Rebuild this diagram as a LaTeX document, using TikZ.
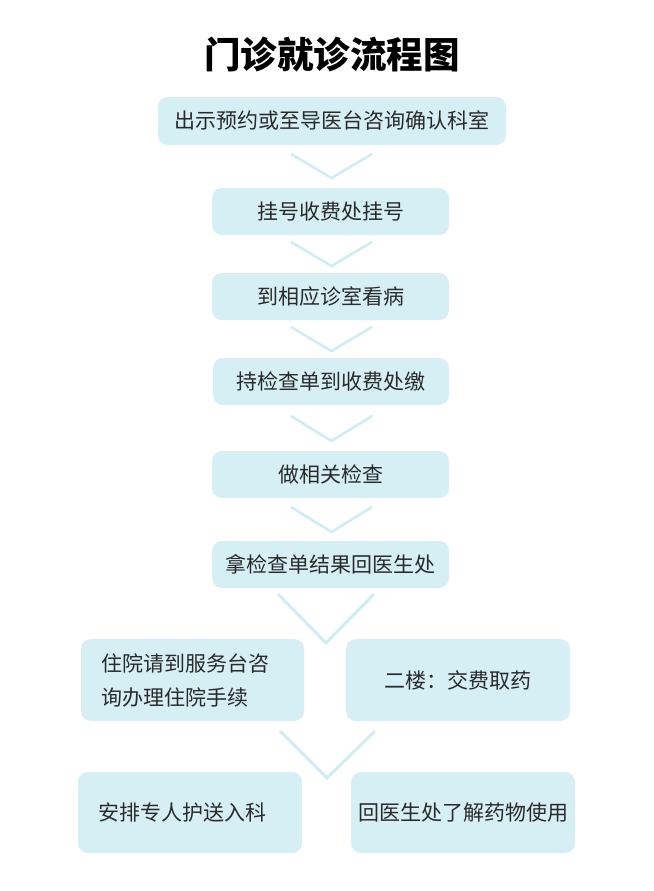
\documentclass[tikz,border=0pt]{standalone}
\usepackage{fontspec}
\setmainfont{Noto Sans CJK SC}
\usetikzlibrary{calc}
\definecolor{boxfill}{HTML}{D5EFF4}
\definecolor{chev}{HTML}{CFEDF3}
\definecolor{txt}{HTML}{2A2A2A}
\begin{document}
\begin{tikzpicture}[x=1pt,y=-1pt,
  box/.style={fill=boxfill,draw=none,rounded corners=10pt,inner sep=0pt,text=txt,
    font=\fontsize{21}{34}\selectfont},
  chevron/.style={draw=chev,line width=2.6pt},
  bigchev/.style={draw=chev,line width=3pt}]
\useasboundingbox (0,0) rectangle (653,891);
\fill[white] (0,0) rectangle (653,891);
\node[text=black,font=\fontsize{36.5}{40}\selectfont\bfseries] (title) at (332,55) {门诊就诊流程图};
\node[box,minimum width=348pt,minimum height=48pt] (b1) at (332,121) {出示预约或至导医台咨询确认科室};
\node[box,minimum width=237pt,minimum height=47pt] (b2) at (330.5,211.5) {挂号收费处挂号};
\node[box,minimum width=237pt,minimum height=47pt] (b3) at (330.5,296.5) {到相应诊室看病};
\node[box,minimum width=236pt,minimum height=47pt] (b4) at (331,381.5) {持检查单到收费处缴};
\node[box,minimum width=237pt,minimum height=47pt] (b5) at (330.5,474.5) {做相关检查};
\node[box,minimum width=237pt,minimum height=47pt] (b6) at (330.5,564.5) {拿检查单结果回医生处};
\node[box,minimum width=223pt,minimum height=82pt] (b7a) at (192.5,680) {};
\node[box,anchor=west,fill=none,align=left] (t7a) at ($(b7a.west)+(20,0)$) {住院请到服务台咨\\询办理住院手续};
\node[box,minimum width=224pt,minimum height=82pt] (b7b) at (458,680) {二楼：交费取药};
\node[box,minimum width=224pt,minimum height=81pt] (b8a) at (190,812.5) {};
\node[box,fill=none] (t8a) at ($(b8a.center)+(-8,0)$) {安排专人护送入科};
\node[box,minimum width=224pt,minimum height=81pt] (b8b) at (463,812.5) {回医生处了解药物使用};
% chevrons between steps
\draw[chevron] (291,154) -- (331.5,178) -- (372,154);
\draw[chevron] (291,242) -- (331.5,266) -- (372,242);
\draw[chevron] (291,327) -- (331.5,351) -- (372,327);
\draw[chevron] (291,416) -- (331.5,441) -- (372,416);
\draw[chevron] (291,507) -- (331.5,532) -- (372,507);
\draw[bigchev] (278,594) -- (326,643) -- (374,594);
\draw[bigchev] (280,731) -- (327,778) -- (375,731);
\end{tikzpicture}
\end{document}
